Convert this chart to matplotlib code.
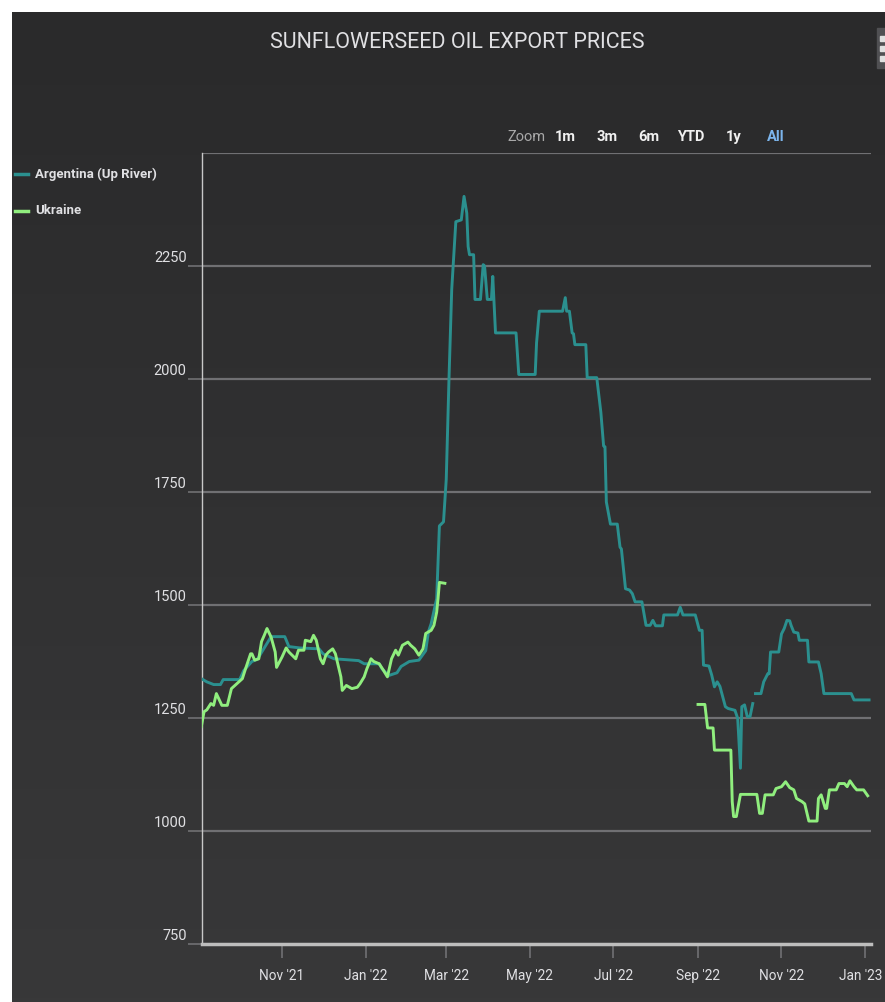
import matplotlib
matplotlib.use('Agg')
import matplotlib.pyplot as plt
from matplotlib.colors import LinearSegmentedColormap
from matplotlib.patches import Rectangle
from matplotlib.transforms import ScaledTranslation
import numpy as np
import pandas as pd

title = 'SUNFLOWERSEED OIL EXPORT PRICES'
series_names = ['Argentina (Up River)', 'Ukraine']

arg_dates = ['2021-09-03', '2021-09-07', '2021-09-12', '2021-09-17', '2021-09-19', '2021-10-01',
             '2021-10-04', '2021-10-10', '2021-10-14', '2021-10-17', '2021-10-20', '2021-10-24',
             '2021-11-03', '2021-11-06', '2021-11-14', '2021-11-28', '2021-12-01', '2021-12-09',
             '2021-12-27', '2021-12-31', '2022-01-11', '2022-01-13', '2022-01-18', '2022-01-24',
             '2022-01-27', '2022-02-02', '2022-02-09', '2022-02-14', '2022-02-16', '2022-02-18',
             '2022-02-22', '2022-02-24', '2022-02-27', '2022-03-01', '2022-03-03', '2022-03-05',
             '2022-03-08', '2022-03-12', '2022-03-14', '2022-03-16', '2022-03-17', '2022-03-18',
             '2022-03-21', '2022-03-22', '2022-03-26', '2022-03-28', '2022-03-29', '2022-03-31',
             '2022-04-03', '2022-04-04', '2022-04-06', '2022-04-21', '2022-04-23', '2022-05-05',
             '2022-05-06', '2022-05-08', '2022-05-25', '2022-05-27', '2022-05-28', '2022-05-30',
             '2022-06-01', '2022-06-02', '2022-06-03', '2022-06-11', '2022-06-12', '2022-06-19',
             '2022-06-22', '2022-06-24', '2022-06-25', '2022-06-26', '2022-06-29', '2022-07-04',
             '2022-07-06', '2022-07-07', '2022-07-10', '2022-07-13', '2022-07-15', '2022-07-17',
             '2022-07-22', '2022-07-25', '2022-07-28', '2022-07-30', '2022-08-01', '2022-08-06',
             '2022-08-07', '2022-08-17', '2022-08-19', '2022-08-21', '2022-08-30', '2022-09-02',
             '2022-09-04', '2022-09-05', '2022-09-09', '2022-09-11', '2022-09-13', '2022-09-15',
             '2022-09-17', '2022-09-21', '2022-09-23', '2022-09-28', '2022-09-30', '2022-10-02',
             '2022-10-03', '2022-10-05', '2022-10-07', '2022-10-09', '2022-10-11', '2022-10-12',
             '2022-10-13', '2022-10-17', '2022-10-19', '2022-10-22', '2022-10-23', '2022-10-24',
             '2022-10-30', '2022-11-01', '2022-11-03', '2022-11-05', '2022-11-07', '2022-11-08',
             '2022-11-10', '2022-11-13', '2022-11-14', '2022-11-20', '2022-11-21', '2022-11-28',
             '2022-11-30', '2022-12-02', '2022-12-22', '2022-12-24', '2023-01-04']
arg_values = [1337, 1330, 1324, 1324, 1335, 1335,
              1355, 1375, 1380, 1395, 1410, 1430,
              1430, 1408, 1405, 1403, 1392, 1381,
              1377, 1370, 1370, 1359, 1344, 1350,
              1364, 1375, 1378, 1399, 1441, 1459,
              1514, 1675, 1684, 1778, 2000, 2198,
              2348, 2352, 2404, 2367, 2293, 2275,
              2275, 2176, 2176, 2253, 2250, 2176,
              2176, 2227, 2102, 2102, 2010, 2010,
              2080, 2150, 2150, 2180, 2150, 2150,
              2102, 2100, 2076, 2076, 2003, 2003,
              1926, 1852, 1850, 1728, 1679, 1679,
              1628, 1624, 1536, 1533, 1525, 1507,
              1507, 1455, 1455, 1466, 1454, 1454,
              1478, 1478, 1495, 1478, 1478, 1444,
              1444, 1367, 1365, 1345, 1319, 1330,
              1320, 1275, 1271, 1267, 1249, 1139,
              1275, 1279, 1253, 1253, 1282, np.nan,
              1304, 1304, 1330, 1348, 1348, 1396,
              1396, 1436, 1448, 1466, 1465, 1455,
              1440, 1438, 1422, 1422, 1374, 1374,
              1348, 1304, 1304, 1290, 1290]

ukr_dates = ['2021-09-03', '2021-09-05', '2021-09-07', '2021-09-10', '2021-09-12', '2021-09-14',
             '2021-09-18', '2021-09-22', '2021-09-25', '2021-09-29', '2021-10-03', '2021-10-05',
             '2021-10-09', '2021-10-10', '2021-10-12', '2021-10-15', '2021-10-17', '2021-10-19',
             '2021-10-21', '2021-10-24', '2021-10-27', '2021-10-28', '2021-11-01', '2021-11-04',
             '2021-11-06', '2021-11-08', '2021-11-11', '2021-11-13', '2021-11-17', '2021-11-18',
             '2021-11-22', '2021-11-24', '2021-11-26', '2021-11-29', '2021-12-01', '2021-12-03',
             '2021-12-05', '2021-12-08', '2021-12-10', '2021-12-14', '2021-12-15', '2021-12-18',
             '2021-12-22', '2021-12-26', '2021-12-28', '2021-12-31', '2022-01-02', '2022-01-05',
             '2022-01-07', '2022-01-11', '2022-01-14', '2022-01-17', '2022-01-20', '2022-01-23',
             '2022-01-25', '2022-01-28', '2022-02-01', '2022-02-03', '2022-02-06', '2022-02-09',
             '2022-02-12', '2022-02-14', '2022-02-18', '2022-02-20', '2022-02-22', '2022-02-23',
             '2022-02-24', '2022-02-28', '2022-03-01',
             '2022-09-01', '2022-09-06', '2022-09-08', '2022-09-12', '2022-09-13', '2022-09-25',
             '2022-09-26', '2022-09-27', '2022-09-29', '2022-10-02', '2022-10-14', '2022-10-16',
             '2022-10-18', '2022-10-20', '2022-10-26', '2022-10-28', '2022-11-01', '2022-11-04',
             '2022-11-07', '2022-11-10', '2022-11-12', '2022-11-16', '2022-11-18', '2022-11-21',
             '2022-11-27', '2022-11-28', '2022-11-30', '2022-12-03', '2022-12-04', '2022-12-06',
             '2022-12-11', '2022-12-13', '2022-12-17', '2022-12-19', '2022-12-21', '2022-12-24',
             '2022-12-26', '2022-12-31', '2023-01-03']
ukr_values = [1231, 1264, 1268, 1282, 1278, 1304,
              1278, 1278, 1315, 1326, 1337, 1356,
              1392, 1392, 1378, 1381, 1419, 1433,
              1448, 1429, 1396, 1362, 1385, 1405,
              1396, 1390, 1381, 1400, 1400, 1422,
              1419, 1433, 1422, 1381, 1370, 1389,
              1396, 1403, 1392, 1341, 1311, 1322,
              1315, 1318, 1326, 1341, 1359, 1381,
              1375, 1370, 1356, 1341, 1381, 1400,
              1389, 1411, 1418, 1411, 1403, 1389,
              1403, 1437, 1444, 1455, 1484, 1514,
              1550, 1548, np.nan,
              1280, 1280, 1228, 1228, 1179, 1179,
              1065, 1032, 1032, 1081, 1081, 1039,
              1039, 1080, 1080, 1094, 1098, 1109,
              1096, 1091, 1072, 1065, 1060, 1022,
              1022, 1072, 1080, 1050, 1050, 1091,
              1091, 1105, 1105, 1098, 1111, 1098,
              1091, 1091, 1078]

y_ticks = [750, 1000, 1250, 1500, 1750, 2000, 2250]
y_grid = [1000, 1250, 1500, 1750, 2000, 2250, 2500]
x_tick_dates = ['2021-11-01', '2022-01-01', '2022-03-01', '2022-05-01',
                '2022-07-01', '2022-09-01', '2022-11-01', '2023-01-01']
x_tick_labels = ["Nov '21", "Jan '22", "Mar '22", "May '22",
                 "Jul '22", "Sep '22", "Nov '22", "Jan '23"]
zoom_buttons = ['1m', '3m', '6m', 'YTD', '1y', 'All']

TEAL = '#2b908f'
GREEN = '#90ee7e'
LABEL = '#e0e0e3'
plt.rcParams['font.family'] = ['Roboto', 'DejaVu Sans']

W, H = 885, 1002
fig = plt.figure(figsize=(W / 100, H / 100), dpi=100)
fig.patch.set_facecolor('white')

# gradient background
bg = fig.add_axes([12 / W, 0, 1 - 12 / W, 1 - 12 / H], zorder=-10)
grad = np.linspace(0, 1, 256).reshape(-1, 1)
cmap = LinearSegmentedColormap.from_list('bg', ['#2a2a2b', '#383839'])
bg.imshow(grad, aspect='auto', cmap=cmap, extent=[0, 1, 0, 1], origin='upper')
bg.set_axis_off()

# main axes
left, right, top, bottom = 202, 871, 153, 944
ax = fig.add_axes([left / W, 1 - bottom / H, (right - left) / W, (bottom - top) / H])
ax.set_facecolor('none')

ad = pd.to_datetime(arg_dates)
ud = pd.to_datetime(ukr_dates)
ax.plot(ad, arg_values, color=TEAL, lw=2.1, solid_joinstyle='round', zorder=3)
ax.plot(ud, ukr_values, color=GREEN, lw=2.1, solid_joinstyle='round', zorder=3)

ax.set_ylim(750, 2500)
ax.set_xlim(pd.Timestamp('2021-09-03 12:00'), pd.Timestamp('2023-01-05 10:00'))

for g in y_grid:
    ax.axhline(g, color='#707073', lw=1.6, zorder=1)

for s in ['top', 'right']:
    ax.spines[s].set_visible(False)
ax.spines['left'].set_color('#c8c8c8')
ax.spines['left'].set_linewidth(1.0)
ax.spines['bottom'].set_color('#bdbdbd')
ax.spines['bottom'].set_linewidth(2.5)

ax.set_yticks(y_ticks)
ax.set_yticklabels([])
ax.tick_params(axis='y', length=10, width=1.2, color='#707073')
for v in y_ticks:
    ax.annotate(str(v), xy=(0, v), xycoords=('axes fraction', 'data'),
                xytext=(-11, 1), textcoords='offset points', ha='right', va='bottom',
                color=LABEL, fontsize=10.5)

ax.set_xticks(pd.to_datetime(x_tick_dates))
ax.set_xticklabels(x_tick_labels, color=LABEL, fontsize=9.8)
ax.tick_params(axis='x', length=10, width=1.2, color='#707073', pad=8)
last = ax.get_xticklabels()[-1]
last.set_transform(last.get_transform() + ScaledTranslation(-4 / 100, 0, fig.dpi_scale_trans))

# title
fig.text(457 / W, 1 - 42 / H, title, ha='center', va='center', color=LABEL,
         fontsize=15.5)

# legend
items = [(series_names[0], TEAL, 174), (series_names[1], GREEN, 211)]
for name, col, yy in items:
    fig.add_artist(plt.Line2D([15 / W, 28 / W], [1 - yy / H, 1 - yy / H], color=col, lw=2.5))
    fig.text(35 / W, 1 - yy / H, name, ha='left', va='center', color=LABEL,
             fontsize=9.5, fontweight='bold')

# range selector
fig.text(527 / W, 1 - 137 / H, 'Zoom', ha='center', va='center', color='#a8a8a8', fontsize=10.5)
bx = [565, 607, 649, 691, 734, 776]
for lab, x in zip(zoom_buttons, bx):
    fig.text(x / W, 1 - 137 / H, lab, ha='center', va='center',
             color='#7cb5ec' if lab == 'All' else '#f0f0f0', fontsize=10.5, fontweight='bold')

# context menu icon (partially visible)
fig.add_artist(Rectangle((877 / W, 1 - 68 / H), 8 / W, 40 / H, color='#505053',
                         transform=fig.transFigure))
for yy in [38, 48, 58]:
    fig.add_artist(Rectangle((880 / W, 1 - (yy + 3) / H), 5 / W, 5 / H, color='#e0e0e0',
                             transform=fig.transFigure))

fig.savefig('out.png', dpi=100, facecolor=fig.get_facecolor())
